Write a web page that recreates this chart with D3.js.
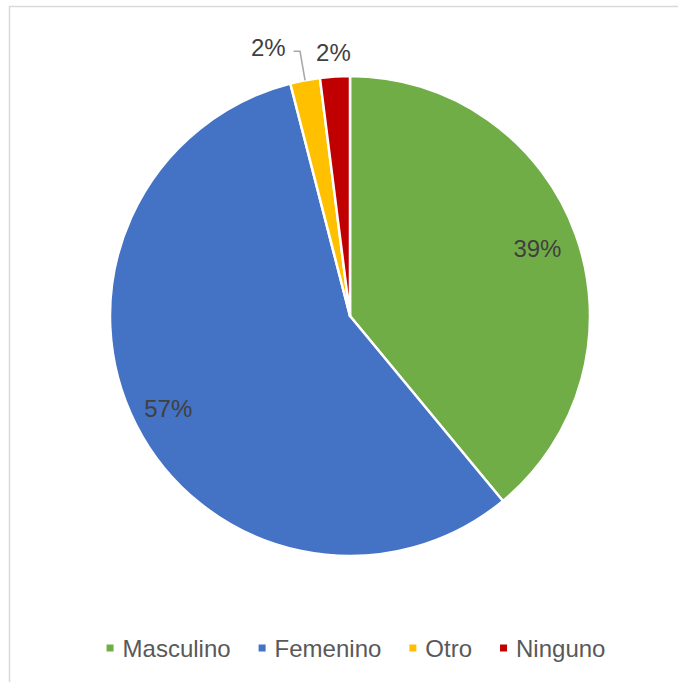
<!DOCTYPE html>
<html>
<head>
<meta charset="utf-8">
<script src="https://cdn.jsdelivr.net/npm/d3@7"></script>
<style>
  html, body { margin: 0; padding: 0; background: #fff; }
  svg { display: block; }
</style>
</head>
<body>
<svg id="chart" width="678" height="682"></svg>
<script>
// Gender distribution
const categories = ["Masculino", "Femenino", "Otro", "Ninguno"];
const values = [39, 57, 2, 2];
const colors = ["#70ad47", "#4472c4", "#ffc000", "#c00000"];

const W = 678, H = 682;
const cx = 350, cy = 316, R = 240;
const font = "'Liberation Sans', Arial, Helvetica, sans-serif";

const svg = d3.select("#chart");

// chart area frame
svg.append("rect")
  .attr("x", 9.5).attr("y", 6.5)
  .attr("width", 800).attr("height", 800)
  .attr("fill", "none")
  .attr("stroke", "#d9d9d9")
  .attr("stroke-width", 1.5);

const data = categories.map((c, i) => ({ name: c, value: values[i], color: colors[i] }));

const pie = d3.pie().value(d => d.value).sort(null);
const arcs = pie(data);
const arc = d3.arc().innerRadius(0).outerRadius(R);

const g = svg.append("g").attr("transform", `translate(${cx},${cy})`);

g.selectAll("path.slice")
  .data(arcs)
  .join("path")
  .attr("class", "slice")
  .attr("d", arc)
  .attr("fill", d => d.data.color)
  .attr("stroke", "#fff")
  .attr("stroke-width", 2.5)
  .attr("stroke-linejoin", "round");

// label placement: radius factor and angular nudge (radians) per slice
const labelPlace = [
  { r: 0.83, da: 0 },
  { r: 0.85, da: 0 },
  { r: 1.17, da: -0.107 },
  { r: 1.10, da: 0 }
];

function polar(r, a) { return [r * Math.sin(a), -r * Math.cos(a)]; }

arcs.forEach((d, i) => {
  const mid = (d.startAngle + d.endAngle) / 2;
  const p = labelPlace[i];
  const [lx, ly] = polar(R * p.r, mid + p.da);
  const t = g.append("text")
    .attr("x", lx).attr("y", ly)
    .attr("text-anchor", "middle")
    .attr("dominant-baseline", "central")
    .attr("font-family", font)
    .attr("font-size", 24)
    .attr("fill", "#404040")
    .text(d.data.value + "%");

  if (p.da !== 0) {
    // leader line from the slice edge to the displaced label
    const [ex, ey] = polar(R, mid);
    const bb = t.node().getBBox();
    const hx = bb.x + bb.width + 8;
    const hy = ly + 4;
    g.append("polyline")
      .attr("points", `${ex},${ey} ${ex - 5},${hy} ${hx},${hy}`)
      .attr("fill", "none")
      .attr("stroke", "#a6a6a6")
      .attr("stroke-width", 1.5);
  }
});

// legend
const legend = svg.append("g");
const legY = 648;
let x = 0;
data.forEach(d => {
  const it = legend.append("g");
  it.append("rect")
    .attr("x", 0).attr("y", legY - 3.5)
    .attr("width", 7).attr("height", 7)
    .attr("fill", d.color);
  const t = it.append("text")
    .attr("x", 16).attr("y", legY)
    .attr("dominant-baseline", "central")
    .attr("font-family", font)
    .attr("font-size", 24)
    .attr("fill", "#595959")
    .text(d.name);
  const w = 16 + t.node().getComputedTextLength();
  it.attr("transform", `translate(${x},0)`);
  x += w + 28;
});
const totalW = x - 28;
legend.attr("transform", `translate(${356 - totalW / 2},0)`);
</script>
</body>
</html>
